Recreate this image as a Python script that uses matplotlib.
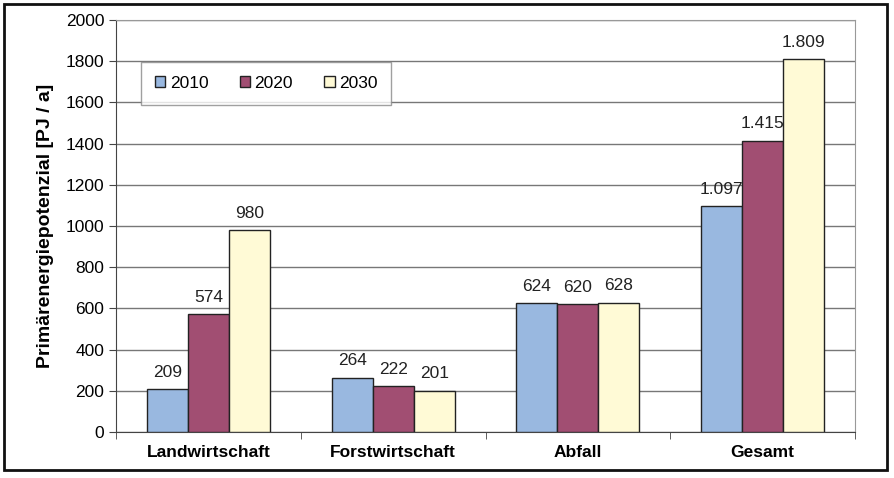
import numpy as np
import matplotlib
matplotlib.use('Agg')
import matplotlib.pyplot as plt
from matplotlib.patches import Rectangle

categories = ['Landwirtschaft', 'Forstwirtschaft', 'Abfall', 'Gesamt']
years = ['2010', '2020', '2030']
val_2010 = [209, 264, 624, 1097]
val_2020 = [574, 222, 620, 1415]
val_2030 = [980, 201, 628, 1809]
colors = ['#99b8e0', '#a14e72', '#fffad6']

plt.rcParams['font.family'] = ['Liberation Sans', 'DejaVu Sans']

fig = plt.figure(figsize=(8.94, 4.78), dpi=100)
ax = fig.add_axes([0.1298, 0.0962, 0.8266, 0.8618])

x = np.arange(len(categories))
w = 0.222
for i, (vals, col, yr) in enumerate(zip([val_2010, val_2020, val_2030], colors, years)):
    pos = x + (i - 1) * w
    ax.bar(pos, vals, width=w, color=col, edgecolor='#222222', linewidth=1.0, label=yr, zorder=3)
    for p, v in zip(pos, vals):
        txt = f'{v:,}'.replace(',', '.')
        ax.text(p, v + 45, txt, ha='center', va='bottom', fontsize=12.5, color='#222222', zorder=4)

ax.set_xlim(-0.5, len(categories) - 0.5)
ax.set_ylim(0, 2000)
ax.set_yticks(range(0, 2001, 200))
ax.yaxis.grid(True, color='#777777', linewidth=1.0, zorder=0)
ax.set_axisbelow(True)

ax.set_xticks(x)
ax.set_xticklabels(categories, fontsize=12.5, fontweight='bold')
ax.tick_params(axis='x', length=0, pad=9)
ax.set_xticks(np.arange(len(categories) + 1) - 0.5, minor=True)
ax.tick_params(axis='x', which='minor', length=5, direction='out', color='#444444')
ax.tick_params(axis='y', labelsize=12.5, length=5, direction='out', color='#444444')

ax.set_ylabel('Primärenergiepotenzial [PJ / a]', fontsize=14, fontweight='bold', labelpad=8)

for s in ['top', 'right']:
    ax.spines[s].set_color('#999999')
for s in ['left', 'bottom']:
    ax.spines[s].set_color('#444444')

leg = ax.legend(loc='upper left', bbox_to_anchor=(0.034, 0.898), ncol=3, fontsize=12.5,
                frameon=True, fancybox=False, edgecolor='#888888', handlelength=0.6,
                handleheight=0.6, columnspacing=1.8, handletextpad=0.25, borderpad=0.8,
                borderaxespad=0)
leg.get_frame().set_linewidth(1.0)

fig.patches.append(Rectangle((4 / 894, 8 / 478), 883 / 894, 466 / 478, transform=fig.transFigure,
                             fill=False, edgecolor='#111111', linewidth=2))

fig.savefig('out.png', dpi=100)
